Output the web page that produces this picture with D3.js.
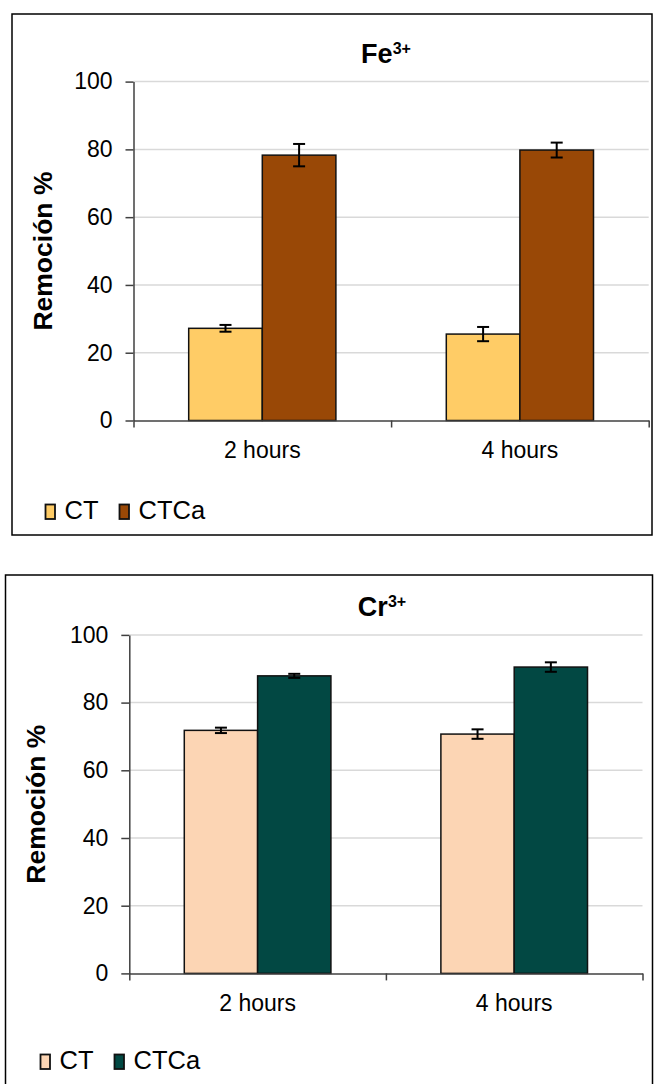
<!DOCTYPE html>
<meta charset="utf-8">
<style>
body { margin: 0; background: #fff; }
text { font-family: Arial, 'Liberation Sans', sans-serif; fill: #000; }
.grid line { stroke: #d9d9d9; stroke-width: 1.5px; }
.axis path, .axis line { stroke: #404040; stroke-width: 1.5px; }
.axis text { font-size: 23px; fill: #000; font-family: Arial, 'Liberation Sans', sans-serif; }
.frame { fill: none; stroke: #000; stroke-width: 1.5px; }
.bar { stroke: #111; stroke-width: 1.5px; }
.err { stroke: #000; stroke-width: 2px; }
.title { font-size: 27px; font-weight: bold; }
.ytitle { font-size: 26.5px; font-weight: bold; }
.legend text { font-size: 25.5px; }
.legend rect { stroke: #111; stroke-width: 1.8px; }
</style>
<div id="chart"></div>
<script src="https://d3js.org/d3.v7.min.js"></script>
<script>
var categories = ['2 hours', '4 hours']
var seriesNames = ['CT', 'CTCa']
var yTicks = [0, 20, 40, 60, 80, 100]

// Fe3+ removal (%) with error bars
var feCT = [27.2, 25.5]
var feCTErr = [1.0, 2.1]
var feCTCa = [78.3, 79.8]
var feCTCaErr = [3.3, 2.2]

// Cr3+ removal (%) with error bars
var crCT = [71.8, 70.7]
var crCTErr = [0.8, 1.4]
var crCTCa = [87.9, 90.5]
var crCTCaErr = [0.6, 1.4]

var svg = d3.select('#chart')
  .append('svg')
  .attr('width', 654)
  .attr('height', 1084)

var charts = [
  {
    metal: 'Fe', charge: '3+',
    frame: [12, 14, 640, 521],
    plot: { left: 133.5, top: 81.6, right: 648.7, bottom: 420.5 },
    titleX: 386, titleY: 62.7, yTitleX: 51.5,
    legendX: 45.5, legendY: 519,
    colors: ['#ffcc66', '#994806'],
    values: [feCT, feCTCa],
    errors: [feCTErr, feCTCaErr]
  },
  {
    metal: 'Cr', charge: '3+',
    frame: [5.5, 575, 647, 530],
    plot: { left: 129.3, top: 634.9, right: 642.5, bottom: 973.4 },
    titleX: 382, titleY: 615.8, yTitleX: 45,
    legendX: 40.5, legendY: 1069,
    colors: ['#fcd5b4', '#024843'],
    values: [crCT, crCTCa],
    errors: [crCTErr, crCTCaErr]
  }
]

charts.forEach(drawChart)

function drawChart(c) {
  var p = c.plot
  var g = svg.append('g')

  g.append('rect')
    .attr('class', 'frame')
    .attr('x', c.frame[0])
    .attr('y', c.frame[1])
    .attr('width', c.frame[2])
    .attr('height', c.frame[3])

  var x = d3.scaleBand()
    .domain(categories)
    .range([p.left, p.right])

  // gap width 150% -> 0.75 bar on each side
  var xs = d3.scaleBand()
    .domain(seriesNames)
    .range([0, x.bandwidth()])
    .paddingInner(0)
    .paddingOuter(0.75)

  var y = d3.scaleLinear()
    .domain([0, 100])
    .range([p.bottom, p.top])

  g.append('g')
    .attr('class', 'grid')
    .selectAll('line')
    .data(yTicks.filter(d => d > 0))
    .join('line')
    .attr('x1', p.left)
    .attr('x2', p.right)
    .attr('y1', d => y(d))
    .attr('y2', d => y(d))

  seriesNames.forEach(function(s, i) {
    var vals = c.values[i]
    var errs = c.errors[i]

    g.append('g')
      .selectAll('rect')
      .data(categories)
      .join('rect')
      .attr('class', 'bar')
      .attr('x', d => x(d) + xs(s))
      .attr('y', (d, j) => y(vals[j]))
      .attr('width', xs.bandwidth())
      .attr('height', (d, j) => y(0) - y(vals[j]))
      .attr('fill', c.colors[i])

    var eb = g.append('g')
      .attr('class', 'err')
      .selectAll('g')
      .data(categories)
      .join('g')
      .attr('transform', d => 'translate(' + (x(d) + xs(s) + xs.bandwidth() / 2) + ',0)')

    eb.append('line')
      .attr('y1', (d, j) => y(vals[j] - errs[j]))
      .attr('y2', (d, j) => y(vals[j] + errs[j]))
    eb.append('line')
      .attr('x1', -6).attr('x2', 6)
      .attr('y1', (d, j) => y(vals[j] + errs[j]))
      .attr('y2', (d, j) => y(vals[j] + errs[j]))
    eb.append('line')
      .attr('x1', -6).attr('x2', 6)
      .attr('y1', (d, j) => y(vals[j] - errs[j]))
      .attr('y2', (d, j) => y(vals[j] - errs[j]))
  })

  var yAxis = d3.axisLeft(y)
    .tickValues(yTicks)
    .tickSize(8)
    .tickSizeOuter(0)
    .tickPadding(13)
  g.append('g')
    .attr('class', 'axis')
    .attr('transform', 'translate(' + p.left + ',0)')
    .call(yAxis)

  // category boundary ticks
  var xEdge = d3.scaleLinear()
    .domain([0, categories.length])
    .range([p.left, p.right])
  g.append('g')
    .attr('class', 'axis')
    .attr('transform', 'translate(0,' + p.bottom + ')')
    .call(d3.axisBottom(xEdge)
      .tickValues(d3.range(categories.length + 1))
      .tickSize(7)
      .tickSizeOuter(0)
      .tickFormat(''))

  g.append('g')
    .attr('class', 'axis')
    .attr('transform', 'translate(0,' + p.bottom + ')')
    .call(d3.axisBottom(x).tickSize(0).tickPadding(21))
    .call(a => a.select('.domain').remove())

  var title = g.append('text')
    .attr('class', 'title')
    .attr('x', c.titleX)
    .attr('y', c.titleY)
    .attr('text-anchor', 'middle')
  title.append('tspan').text(c.metal)
  title.append('tspan')
    .attr('dy', -9)
    .attr('font-size', 16)
    .text(c.charge)

  g.append('text')
    .attr('class', 'ytitle')
    .attr('transform', 'translate(' + c.yTitleX + ',' + ((p.top + p.bottom) / 2) + ') rotate(-90)')
    .attr('text-anchor', 'middle')
    .text('Remoción %')

  var legend = g.append('g')
    .attr('class', 'legend')
    .attr('transform', 'translate(' + c.legendX + ',' + c.legendY + ')')
  var item = legend.selectAll('g')
    .data(seriesNames)
    .join('g')
    .attr('transform', (d, i) => 'translate(' + i * 74 + ',0)')
  item.append('rect')
    .attr('x', 0)
    .attr('y', -14.5)
    .attr('width', 9.5)
    .attr('height', 14.5)
    .attr('fill', (d, i) => c.colors[i])
  item.append('text')
    .attr('x', 19)
    .text(d => d)
}
</script>
